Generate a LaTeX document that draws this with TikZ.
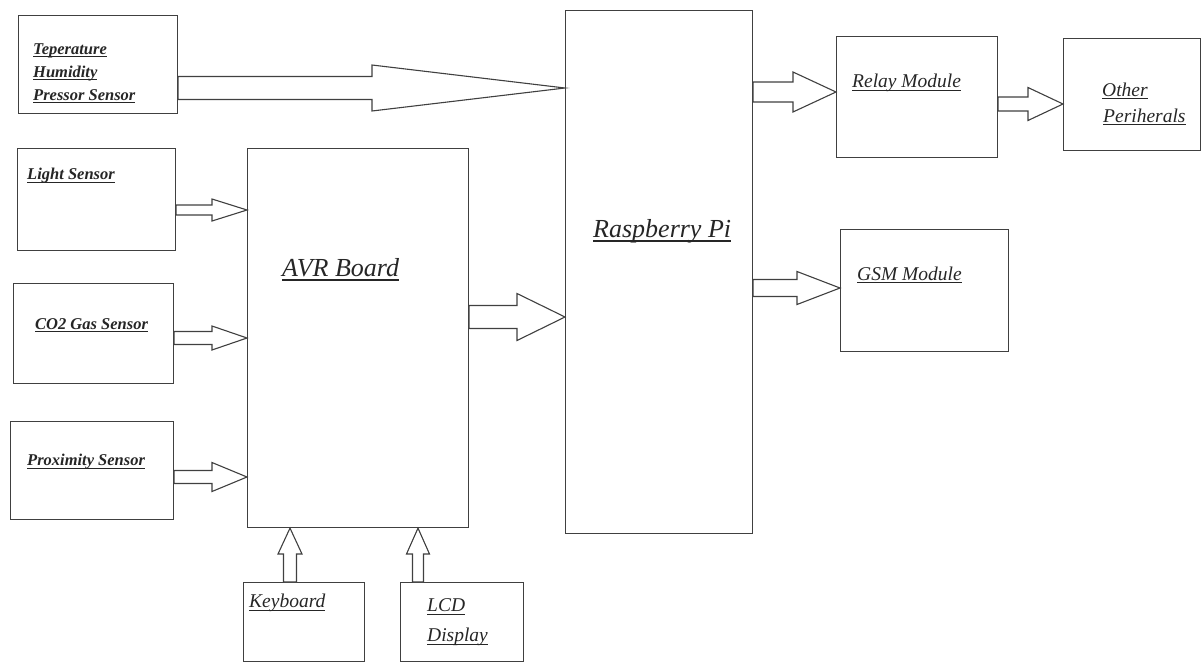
\documentclass[tikz,border=0pt]{standalone}
\usepackage{fontspec}
\setmainfont{Liberation Serif}
\usetikzlibrary{calc}
\newcommand\myul[1]{\setbox0\hbox{#1}\leavevmode\rlap{\rule[-0.17em]{\wd0}{0.07em}}\box0}
\tikzset{
 box/.style={draw=black!75, line width=1.1pt, inner sep=0pt, anchor=north west},
 blk/.style={draw=black!75, line width=1.1pt, fill=white, line join=miter},
 lbl/.style={anchor=west, inner sep=0pt, text=black!85},
 sm/.style={font=\fontsize{16.5}{23}\selectfont\bfseries\itshape},
 md/.style={font=\fontsize{19.5}{30}\selectfont\itshape},
 lg/.style={font=\fontsize{26}{30}\selectfont\itshape},
}
\newcommand\mkbox[5]{\node[box, minimum width={#4-#2}, minimum height={#5-#3}] (#1) at (#2,#3) {};}
% source, target, head x, centre y, shaft half width, head half width
\newcommand\harrow[6]{\draw[blk] (#1.east |- 0,{#4-#5}) -- (#3,{#4-#5}) -- (#3,{#4-#6}) -- (#2.west |- 0,#4) -- (#3,{#4+#6}) -- (#3,{#4+#5}) -- (#1.east |- 0,{#4+#5}) -- cycle;}
% source, target, head y, centre x, shaft half width, head half width
\newcommand\varrow[6]{\draw[blk] (#1.north -| {#4-#5},0) -- ({#4-#5},#3) -- ({#4-#6},#3) -- (#2.south -| #4,0) -- ({#4+#6},#3) -- ({#4+#5},#3) -- (#1.north -| {#4+#5},0) -- cycle;}
\begin{document}
\begin{tikzpicture}[x=1pt,y=-1pt]
\useasboundingbox (0,0) rectangle (1202,662);
\mkbox{temp}{18}{15}{177}{113}
\mkbox{light}{17}{148}{175}{250}
\mkbox{co2}{13}{283}{173}{383}
\mkbox{prox}{10}{421}{173}{519}
\mkbox{avr}{247}{148}{468}{527}
\mkbox{rpi}{565}{10}{752}{533}
\mkbox{relay}{836}{36}{997}{157}
\mkbox{other}{1063}{38}{1200}{150}
\mkbox{gsm}{840}{229}{1008}{351}
\mkbox{kbd}{243}{582}{364}{661}
\mkbox{lcd}{400}{582}{523}{661}

\harrow{temp}{rpi}{372}{88}{11.5}{23}
\harrow{light}{avr}{212}{210}{5}{11}
\harrow{co2}{avr}{212}{338}{6.5}{12}
\harrow{prox}{avr}{212}{477}{6.5}{14.5}
\harrow{avr}{rpi}{517}{317}{11.5}{23.5}
\harrow{rpi}{relay}{793}{92}{10}{20}
\harrow{relay}{other}{1028}{104}{7}{16.5}
\harrow{rpi}{gsm}{797}{288}{8.5}{16.5}
\varrow{kbd}{avr}{554}{290}{6.5}{12}
\varrow{lcd}{avr}{554}{418}{5.5}{11.5}

\node[lbl, sm, align=left] (tl) at (33,73) {\myul{Teperature}\\\myul{Humidity}\\\myul{Pressor Sensor}};
\node[lbl, sm] (ll) at (27,176) {\myul{Light Sensor}};
\node[lbl, sm] (cl) at (35,325) {\myul{CO2 Gas Sensor}};
\node[lbl, sm] (pl) at (27,462) {\myul{Proximity Sensor}};
\node[lbl, lg] (al) at (282,270) {\myul{AVR Board}};
\node[lbl, lg] (rl) at (593,231) {\myul{Raspberry Pi}};
\node[lbl, md] (rel) at (852,83) {\myul{Relay Module}};
\node[lbl, md] (ol1) at (1102,91) {\myul{Other}};
\node[lbl, md] (ol2) at (1103,117) {\myul{Periherals}};
\node[lbl, md] (gl) at (857,275) {\myul{GSM Module}};
\node[lbl, md] (kl) at (249,603) {\myul{Keyboard}};
\node[lbl, md] (lc1) at (427,607) {\myul{LCD}};
\node[lbl, md] (lc2) at (427,637) {\myul{Display}};
\end{tikzpicture}
\end{document}
